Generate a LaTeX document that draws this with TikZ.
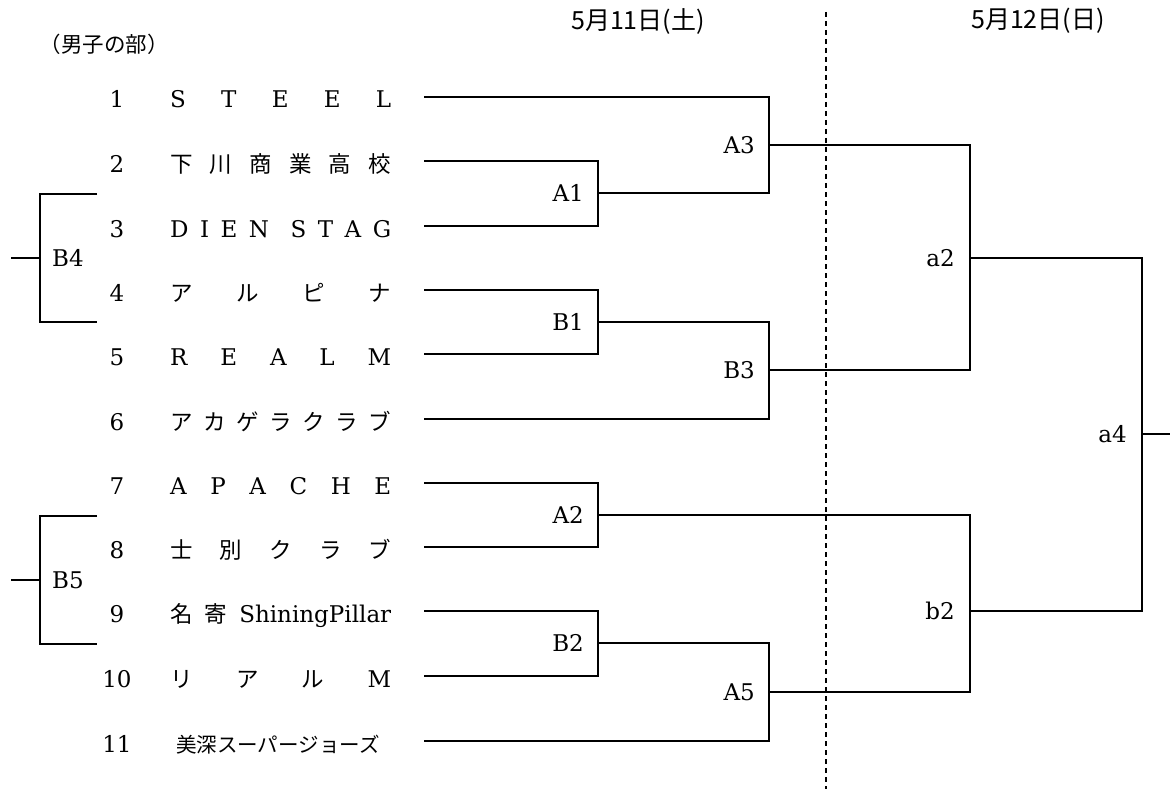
\documentclass[tikz,border=0pt]{standalone}
\usepackage{fontspec}
\setmainfont{DejaVu Serif}
\newfontfamily\jpfont{Noto Sans CJK JP}
\usetikzlibrary{positioning}
\tikzset{
  num/.style      = {inner sep=0, anchor=base, font=\fontsize{23}{26}\selectfont},
  team/.style     = {inner sep=0, anchor=base west, font=\fontsize{23}{26}\selectfont},
  match/.style    = {inner sep=0, font=\fontsize{23}{26}\selectfont},
  day/.style      = {inner sep=0, font=\jpfont\fontsize{25}{28}\selectfont},
  wire/.style     = {line width=2pt},
  daysplit/.style = {line width=1.4pt, dash pattern=on 5pt off 4pt}
}
\newcommand{\spread}[1]{\makebox[221pt][s]{#1}}
\newcommand{\jpsize}{\jpfont\fontsize{22.5}{26}\selectfont}

\begin{document}
\begin{tikzpicture}[x=1pt, y=-1pt]
  \useasboundingbox (0,0) rectangle (1170,789);
  % headings
  \node[day, font=\jpfont\fontsize{21.5}{24}\selectfont] (boys) at (104,44) {（男子の部）};
  \node[day] (sat) at (638,21) {5月11日(土)};
  \node[day] (sun) at (1038,21) {5月12日(日)};
  \coordinate (dtop) at (826,12);
  \coordinate (dbot) at (826,789);
  \draw[daysplit] (dtop) -- (dbot);

  % teams
  \node[num] (n1) at (117,108) {1};
  \node[team] (s1) at (170,108) {\spread{S\hfill T\hfill E\hfill E\hfill L}};
  \node[num] (n2) at (117,172) {2};
  \node[team] (s2) at (170,172) {\spread{\jpsize 下\hfill 川\hfill 商\hfill 業\hfill 高\hfill 校}};
  \node[num] (n3) at (117,237) {3};
  \node[team] (s3) at (170,237) {\spread{D\hfill I\hfill E\hfill N\hspace{10pt}\hfill S\hfill T\hfill A\hfill G}};
  \node[num] (n4) at (117,301) {4};
  \node[team] (s4) at (170,301) {\spread{\jpsize ア\hfill ル\hfill ピ\hfill ナ}};
  \node[num] (n5) at (117,365) {5};
  \node[team] (s5) at (170,365) {\spread{R\hfill E\hfill A\hfill L\hfill M}};
  \node[num] (n6) at (117,430) {6};
  \node[team] (s6) at (170,430) {\spread{\jpsize ア\hfill カ\hfill ゲ\hfill ラ\hfill ク\hfill ラ\hfill ブ}};
  \node[num] (n7) at (117,494) {7};
  \node[team] (s7) at (170,494) {\spread{A\hfill P\hfill A\hfill C\hfill H\hfill E}};
  \node[num] (n8) at (117,558) {8};
  \node[team] (s8) at (170,558) {\spread{\jpsize 士\hfill 別\hfill ク\hfill ラ\hfill ブ}};
  \node[num] (n9) at (117,622) {9};
  \node[team] (s9) at (170,622) {\spread{{\jpsize 名\hfill 寄}\hfill ShiningPillar}};
  \node[num] (n10) at (117,687) {10};
  \node[team] (s10) at (170,687) {\spread{\jpsize リ\hfill ア\hfill ル\hfill {\rmfamily\fontsize{23}{26}\selectfont M}}};
  \node[num] (n11) at (117,752) {11};
  \node[team, font=\jpfont\fontsize{20.5}{24}\selectfont] (s11) at (176,752) {美深スーパージョーズ};

  \coordinate (t1) at (424,97);
  \coordinate (t2) at (424,161);
  \coordinate (t3) at (424,226);
  \coordinate (t4) at (424,290);
  \coordinate (t5) at (424,354);
  \coordinate (t6) at (424,419);
  \coordinate (t7) at (424,483);
  \coordinate (t8) at (424,547);
  \coordinate (t9) at (424,611);
  \coordinate (t10) at (424,676);
  \coordinate (t11) at (424,741);

  % matches
  \coordinate (A1) at (598,193);
  \coordinate (B1) at (598,322);
  \coordinate (A2) at (598,515);
  \coordinate (B2) at (598,643);
  \coordinate (A3) at (769,145);
  \coordinate (B3) at (769,370);
  \coordinate (A5) at (769,692);
  \coordinate (a2) at (970,258);
  \coordinate (b2) at (970,611);
  \coordinate (a4) at (1142,434);
  \coordinate (fin) at (1170,434);

  \draw[wire] (t2) -| (A1) |- (t3);
  \draw[wire] (t1) -| (A3) |- (A1);
  \draw[wire] (t4) -| (B1) |- (t5);
  \draw[wire] (B1) -| (B3) |- (t6);
  \draw[wire] (A3) -| (a2) |- (B3);
  \draw[wire] (t7) -| (A2) |- (t8);
  \draw[wire] (t9) -| (B2) |- (t10);
  \draw[wire] (B2) -| (A5) |- (t11);
  \draw[wire] (A2) -| (b2) |- (A5);
  \draw[wire] (a2) -| (a4) |- (b2);
  \draw[wire] (a4) -- (fin);

  \node[match, left=14pt of A1] (lA1) {A1};
  \node[match, left=14pt of B1] (lB1) {B1};
  \node[match, left=14pt of A2] (lA2) {A2};
  \node[match, left=14pt of B2] (lB2) {B2};
  \node[match, left=14pt of A3] (lA3) {A3};
  \node[match, left=14pt of B3] (lB3) {B3};
  \node[match, left=14pt of A5] (lA5) {A5};
  \node[match, left=15pt of a2] (la2) {a2};
  \node[match, left=15pt of b2] (lb2) {b2};
  \node[match, left=15pt of a4] (la4) {a4};

  % side brackets
  \coordinate (b4top) at (97,194);
  \coordinate (b4bot) at (97,322);
  \coordinate (B4) at (40,258);
  \coordinate (b4out) at (11,258);
  \coordinate (b5top) at (97,516);
  \coordinate (b5bot) at (97,644);
  \coordinate (B5) at (40,580);
  \coordinate (b5out) at (11,580);
  \draw[wire] (b4top) -| (B4) |- (b4bot);
  \draw[wire] (B4) -- (b4out);
  \draw[wire] (b5top) -| (B5) |- (b5bot);
  \draw[wire] (B5) -- (b5out);
  \node[match, right=12pt of B4] (lB4) {B4};
  \node[match, right=12pt of B5] (lB5) {B5};
\end{tikzpicture}
\end{document}
